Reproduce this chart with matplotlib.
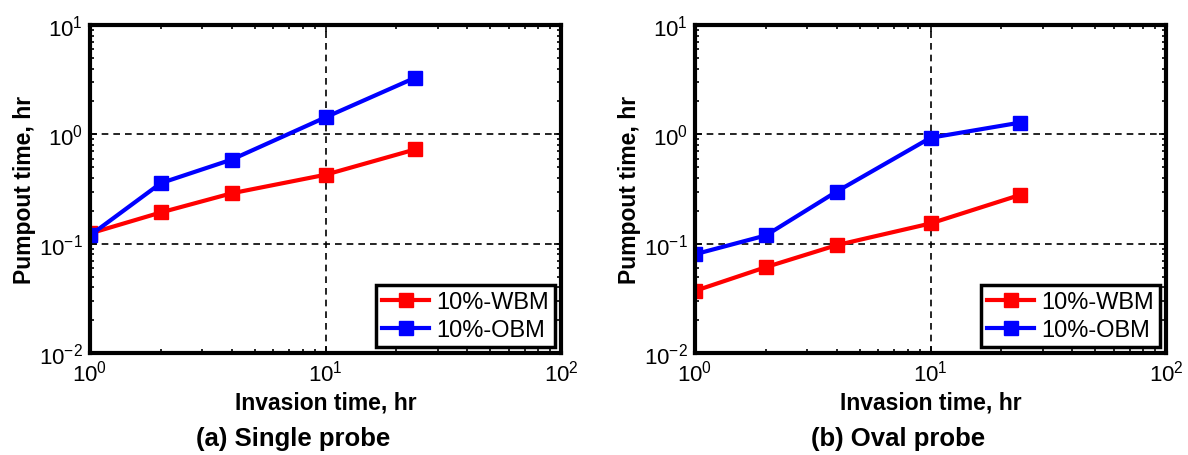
import matplotlib
matplotlib.use("Agg")
import matplotlib.pyplot as plt
import numpy as np

plt.rcParams['font.family'] = ['Liberation Sans', 'DejaVu Sans']
plt.rcParams['mathtext.fontset'] = 'custom'
plt.rcParams['mathtext.rm'] = 'Liberation Sans'
plt.rcParams['mathtext.it'] = 'Liberation Sans'
plt.rcParams['mathtext.bf'] = 'Liberation Sans:bold'

# invasion times, hr
inv_time = [1, 2, 4, 10, 24]

# pumpout times, hr
single_wbm = [0.124, 0.193, 0.289, 0.427, 0.727]
single_obm = [0.119, 0.358, 0.588, 1.43, 3.29]
oval_wbm = [0.037, 0.061, 0.097, 0.153, 0.279]
oval_obm = [0.080, 0.119, 0.30, 0.93, 1.28]

captions = ['(a) Single probe', '(b) Oval probe']
series = [(single_wbm, single_obm), (oval_wbm, oval_obm)]
lefts = [90 / 1188, 695 / 1188]

fig = plt.figure(figsize=(11.88, 4.56), dpi=100)

for left, (wbm, obm), cap in zip(lefts, series, captions):
    ax = fig.add_axes([left, 102 / 456, 471 / 1188, 328 / 456])
    ax.set_xscale('log')
    ax.set_yscale('log')
    ax.plot(inv_time, wbm, color='#ff0000', lw=3, marker='s', ms=10,
            mfc='#ff0000', mec='#ff0000', label='10%-WBM')
    ax.plot(inv_time, obm, color='#0000ff', lw=3, marker='s', ms=10,
            mfc='#0000ff', mec='#0000ff', label='10%-OBM')
    ax.set_xlim(1, 100)
    ax.set_ylim(0.01, 10)
    ax.grid(True, which='major', color='black', linestyle=(0, (4, 3)), lw=1.2)
    ax.tick_params(which='both', direction='in', top=True, right=True,
                   labelsize=16, width=1.2, pad=5)
    ax.tick_params(which='major', length=5)
    ax.tick_params(which='minor', length=3)
    for sp in ax.spines.values():
        sp.set_linewidth(3)
    ax.set_xlabel('Invasion time, hr', fontsize=16.5, fontweight='bold', labelpad=3)
    ax.set_ylabel('Pumpout time, hr', fontsize=16.5, fontweight='bold', labelpad=2)
    leg = ax.legend(loc='lower right', fontsize=17, numpoints=1, handlelength=2.0,
                    fancybox=False, edgecolor='black', framealpha=1,
                    borderaxespad=0.25, borderpad=0.25, handletextpad=0.3,
                    labelspacing=0.25)
    leg.get_frame().set_linewidth(2.5)
    cx = left + (471 / 2 - 32) / 1188
    fig.text(cx, 1 - 439 / 456, cap, ha='center', va='center',
             fontsize=18.5, fontweight='bold')

fig.savefig('out.png', dpi=100)
